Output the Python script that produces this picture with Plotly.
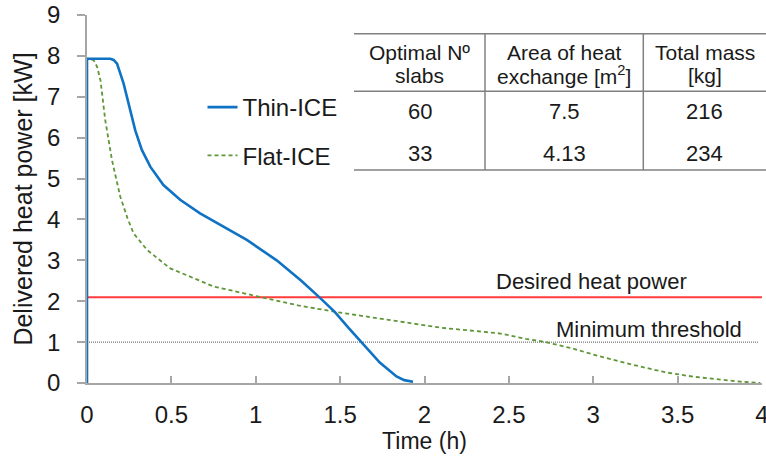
import plotly.graph_objects as go

# ---- data ----
t_thin = [0, 0, 0.07, 0.138, 0.158, 0.178, 0.217, 0.252, 0.286, 0.325, 0.375, 0.453,
          0.552, 0.67, 0.789, 0.947, 1.124, 1.27, 1.376, 1.468, 1.55, 1.627, 1.735,
          1.79, 1.834, 1.88, 1.932]
p_thin = [0, 7.93, 7.93, 7.93, 7.9, 7.81, 7.32, 6.75, 6.18, 5.70, 5.29, 4.84,
          4.48, 4.15, 3.87, 3.5, 3.0, 2.5, 2.1, 1.74, 1.35, 1.0, 0.5,
          0.31, 0.16, 0.07, 0.03]

t_flat = [0, 0, 0.02, 0.04, 0.06, 0.08, 0.108, 0.148, 0.197, 0.24, 0.276, 0.355, 0.49,
          0.67, 0.75, 1.03, 1.25, 1.47, 1.85, 2.10, 2.33, 2.45, 2.60, 2.72, 2.88,
          3.04, 3.23, 3.43, 3.60, 3.73, 3.88, 3.99]
p_flat = [0, 7.93, 7.93, 7.89, 7.73, 7.4, 6.43, 5.45, 4.56, 4.03, 3.66, 3.26, 2.81,
          2.5, 2.36, 2.1, 1.9, 1.74, 1.51, 1.35, 1.26, 1.21, 1.08, 1.0, 0.84,
          0.65, 0.45, 0.26, 0.15, 0.09, 0.03, 0.0]

desired_power = 2.1
min_threshold = 1.0
ref_t = [0, 4]
ref_t_thr = [0, 3.98]

table_header = [["Optimal Nº", "slabs"],
                ["Area of heat", "exchange [m<sup>2</sup>]"],
                ["Total mass", "[kg]"]]
table_rows = [["60", "7.5", "216"],
              ["33", "4.13", "234"]]

series_names = ["Thin-ICE", "Flat-ICE"]

# ---- figure ----
FONT = "Liberation Sans, Arial, sans-serif"
TXT = "#1a1a1a"
fig = go.Figure()

fig.add_trace(go.Scatter(x=ref_t, y=[desired_power] * 2, mode="lines",
                         line=dict(color="#ff3b3b", width=2), showlegend=False,
                         hoverinfo="skip"))
fig.add_trace(go.Scatter(x=ref_t_thr, y=[min_threshold] * 2, mode="lines",
                         line=dict(color="#555555", width=1, dash="1px,1px"),
                         showlegend=False, hoverinfo="skip"))
fig.add_trace(go.Scatter(x=t_flat, y=p_flat, mode="lines", name=series_names[1],
                         line=dict(color="#5f9638", width=1.8, dash="4px,3px"),
                         legendrank=2, legendgroup="b"))
fig.add_trace(go.Scatter(x=t_thin, y=p_thin, mode="lines", name=series_names[0],
                         line=dict(color="#0f72c4", width=2.6),
                         legendrank=1, legendgroup="a"))

fig.add_annotation(x=2.99, y=desired_power, yshift=16, text="Desired heat power",
                   showarrow=False, xanchor="center",
                   font=dict(size=22, color=TXT, family=FONT))
fig.add_annotation(x=3.33, y=min_threshold, yshift=13, text="Minimum threshold",
                   showarrow=False, xanchor="center",
                   font=dict(size=22, color=TXT, family=FONT))

# ---- table (paper coordinates, derived from page pixel positions) ----
def px(xp):
    return (xp - 87) / 675.0

def py(yp):
    return (383.5 - yp) / 369.0

line_c = "#808080"
for yy in (33.3, 91, 170):
    fig.add_shape(type="line", xref="paper", yref="paper", x0=px(354), x1=px(766),
                  y0=py(yy), y1=py(yy), line=dict(color=line_c, width=1.5))
for xx in (485, 643.3):
    fig.add_shape(type="line", xref="paper", yref="paper", x0=px(xx), x1=px(xx),
                  y0=py(33.3), y1=py(170), line=dict(color=line_c, width=1.5))

col_x = [419.5, 564, 704.5]
for ci, hdr in enumerate(table_header):
    for li, txt in enumerate(hdr):
        fig.add_annotation(xref="paper", yref="paper", x=px(col_x[ci]),
                           y=py([51.7, 75][li]), text=txt, showarrow=False,
                           xanchor="center", yanchor="middle",
                           font=dict(size=21, color=TXT, family=FONT))
for ri, row in enumerate(table_rows):
    for ci, txt in enumerate(row):
        fig.add_annotation(xref="paper", yref="paper", x=px(col_x[ci]),
                           y=py([111.7, 153.3][ri]), text=txt, showarrow=False,
                           xanchor="center", yanchor="middle",
                           font=dict(size=22, color=TXT, family=FONT))

axis_c = "#a6a6a6"
fig.update_layout(
    width=766, height=464,
    margin=dict(l=87, r=4, t=14.5, b=80.5, autoexpand=False),
    paper_bgcolor="white", plot_bgcolor="white",
    font=dict(family=FONT, size=24, color=TXT),
    legend=dict(x=px(202.5), y=py(84.7), xanchor="left", yanchor="top",
                traceorder="grouped", tracegroupgap=14,
                font=dict(size=24, color=TXT, family=FONT),
                bgcolor="rgba(0,0,0,0)"),
    xaxis=dict(range=[0, 4], dtick=0.5, tick0=0, showgrid=False, zeroline=False,
               showline=True, linecolor=axis_c, linewidth=1.5, automargin=False,
               ticks="inside", ticklen=7, tickcolor=axis_c, tickwidth=1.5,
               ticklabelstandoff=9, ticklabeloverflow="allow",
               title=dict(text="Time (h)", standoff=2, font=dict(size=23))),
    yaxis=dict(range=[0, 9], dtick=1, tick0=0, showgrid=False, zeroline=False,
               showline=True, linecolor=axis_c, linewidth=1.5, automargin=False,
               ticks="outside", ticklen=8, tickcolor=axis_c, tickwidth=1.5,
               ticklabelstandoff=12, ticklabeloverflow="allow",
               title=dict(text="Delivered heat power [kW]", standoff=7,
                          font=dict(size=25))),
)

# remove the default 8px page margin so the figure sits at the window's corner
fig.write_html("out.html", config={"displayModeBar": False},
               post_script="document.body.style.margin='0';")
